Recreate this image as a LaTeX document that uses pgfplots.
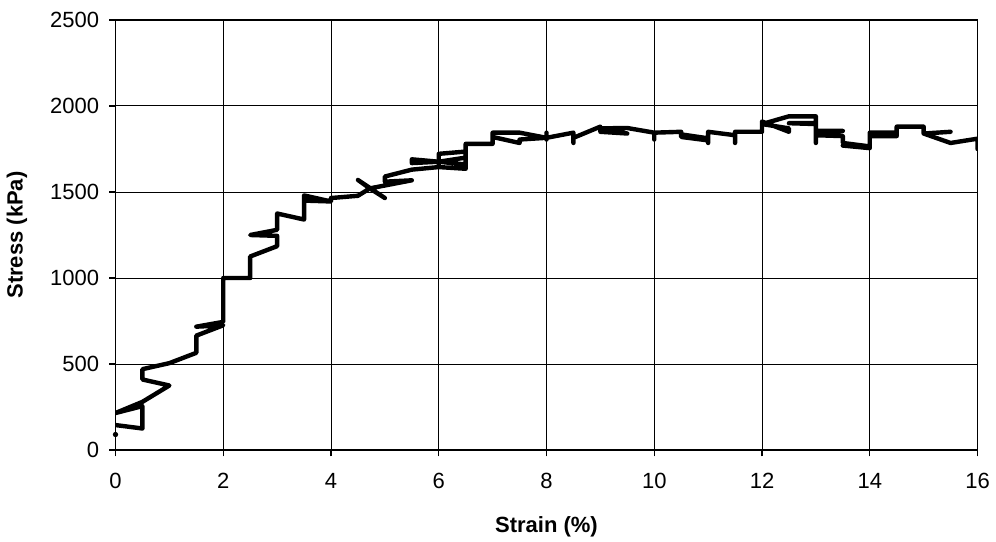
\documentclass[border=0pt]{standalone}
\usepackage{fontspec}
\setmainfont{Liberation Sans}
\usepackage{pgfplots}
\pgfplotsset{compat=1.18}

\begin{document}
\begin{tikzpicture}
% fixed page size around the axis box
\path[use as bounding box] (-57.75bp,-46bp) rectangle (440.25bp,225bp);
\begin{axis}[
  at={(0,0)}, anchor=south west,
  scale only axis,
  width=431bp, height=215bp,
  xmin=0, xmax=16, ymin=0, ymax=2500,
  xtick={0,2,...,16},
  ytick={0,500,...,2500},
  grid=major,
  major grid style={black, line width=0.5bp},
  axis line style={black, line width=0.6bp},
  tick style={black, line width=0.6bp},
  tick align=outside,
  tick pos=left,
  major tick length=3.2bp,
  /pgf/number format/assume math mode=true,
  /pgf/number format/1000 sep={},
  tick label style={font=\fontsize{11bp}{13bp}\selectfont},
  xticklabel style={yshift=-5bp},
  yticklabel style={xshift=-1.5bp},
  xlabel={\bfseries Strain (\%)},
  ylabel={\bfseries Stress (kPa)},
  label style={font=\fontsize{11bp}{13bp}\selectfont},
  xlabel style={at={(axis description cs:0.5,-0.179)}, anchor=center},
  ylabel style={at={(axis description cs:-0.1143,0.5)}, anchor=center, rotate=0},
]
% stress-strain record
\addplot[black, line width=2.2bp, line join=round, line cap=round] coordinates {
  (0,145) (0.5,125) (0.5,255) (0,215) (0.5,280) (1.0,375) (0.5,410) (0.5,470)
  (1.0,505) (1.5,565) (1.5,665) (2.0,725) (1.5,717) (2.0,745) (2.0,1000)
  (2.5,1000) (2.5,1125) (3.0,1185) (3.0,1245) (2.5,1250) (3.0,1280) (3.0,1375)
  (3.5,1340) (3.5,1480) (4.0,1445) (3.5,1450) (4.0,1450) (4.0,1465) (4.5,1478)
  (4.72,1521) (4.5,1570) (5.0,1465) (4.72,1521) (5.5,1568) (5.0,1560)
  (5.0,1590) (5.5,1630) (6.0,1645) (6.0,1722) (6.5,1735) (6.5,1700) (6.0,1676)
  (5.5,1690) (5.5,1668) (6.0,1676) (6.5,1660) (6.5,1635) (6.0,1645) (6.5,1635)
  (6.5,1780) (7.0,1780) (7.0,1845) (7.5,1845) (8.0,1815) (7.5,1805) (7.5,1785)
  (7.0,1820) (7.5,1785) (7.5,1805) (8.0,1815) (8.0,1845) (8.0,1805) (8.0,1815)
  (8.5,1845) (8.5,1785) (8.5,1815) (9.0,1880) (9.0,1850) (9.5,1840) (9.0,1870)
  (9.5,1872) (10.0,1845) (10.0,1805) (10.0,1845) (10.5,1850) (10.5,1820)
  (11.0,1800) (10.5,1835) (11.0,1812) (11.0,1785) (11.0,1850) (11.5,1830)
  (11.5,1785) (11.5,1850) (12.0,1850) (12.0,1910) (12.5,1850) (12.5,1870)
  (12.0,1895) (12.5,1940) (13.0,1940) (13.0,1895) (12.5,1900) (13.0,1900)
  (13.0,1785) (13.0,1855) (13.5,1855) (13.0,1830) (13.5,1825) (13.5,1785)
  (14.0,1765) (13.5,1770) (14.0,1755) (14.0,1845) (14.5,1845) (14.0,1825)
  (14.5,1825) (14.5,1880) (15.0,1880) (15.0,1840) (15.5,1850) (15.0,1840)
  (15.5,1785) (16.0,1810) (16.0,1750)
};
% first reading
\addplot[only marks, mark=*, mark size=1.1bp, black] coordinates {(0,90)};
\end{axis}
\end{tikzpicture}
\end{document}
